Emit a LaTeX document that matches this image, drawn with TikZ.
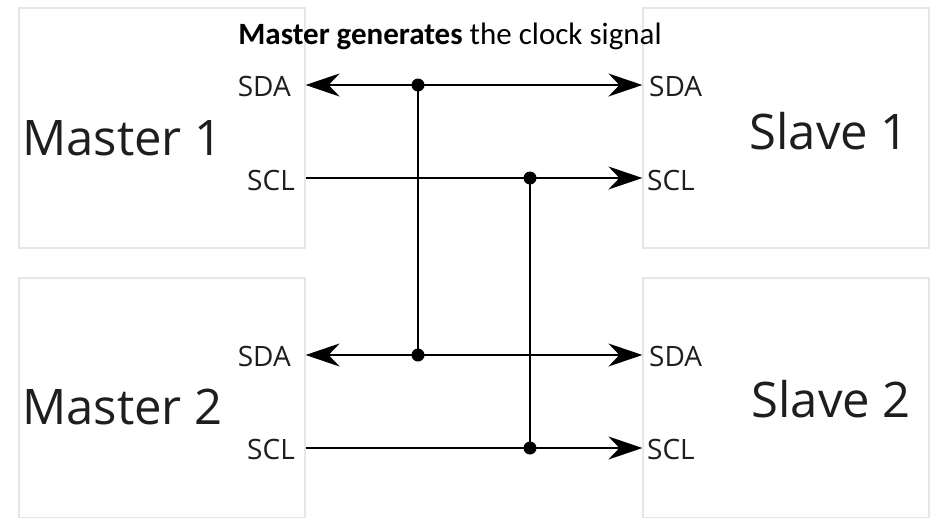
\documentclass[tikz,border=0pt]{standalone}
\usepackage{fontspec}
\setmainfont{Open Sans}
\newfontfamily\titlefont{Carlito}
\usetikzlibrary{arrows.meta}
\definecolor{boxgray}{HTML}{E6E6E6}
\definecolor{txt}{HTML}{1E1E1E}
\tikzset{
  box/.style={draw=boxgray, line width=1.2pt, minimum width=286pt, minimum height=240pt, inner sep=0pt},
  bigtext/.style={font=\fontsize{49}{56}\selectfont, text=txt, inner sep=0pt},
  portlab/.style={font=\fontsize{28}{32}\selectfont, text=txt, inner sep=0pt},
  wire/.style={line width=2pt},
  arr/.style={wire, -{Stealth[length=34pt, width=23pt, inset=11pt]}},
  dotnode/.style={circle, fill=black, inner sep=0pt, minimum size=13pt},
}
\begin{document}
\begin{tikzpicture}[x=1pt, y=-1pt]
\useasboundingbox (0,0) rectangle (932,517);
\fill[white] (0,0) rectangle (932,517);
% boxes
\node[box] (m1) at (162,128) {};
\node[box] (s1) at (786,128) {};
\node[box] (m2) at (162,398) {};
\node[box] (s2) at (786,398) {};
% box names
\node[bigtext, anchor=west] (m1t) at (22,138) {Master 1};
\node[bigtext, anchor=east] (s1t) at (909,131) {Slave 1};
\node[bigtext, anchor=west] (m2t) at (22,407) {Master 2};
\node[bigtext, anchor=east] (s2t) at (911,399) {Slave 2};
% port labels
\node[portlab, anchor=east] (m1sda) at (291,86) {SDA};
\node[portlab, anchor=east] (m1scl) at (295,180) {SCL};
\node[portlab, anchor=east] (m2sda) at (291,356) {SDA};
\node[portlab, anchor=east] (m2scl) at (295,449) {SCL};
\node[portlab, anchor=west] (s1sda) at (649,86) {SDA};
\node[portlab, anchor=west] (s1scl) at (647,180) {SCL};
\node[portlab, anchor=west] (s2sda) at (649,356) {SDA};
\node[portlab, anchor=west] (s2scl) at (647,449) {SCL};
% title
\node[font=\titlefont\fontsize{31}{36}\selectfont, inner sep=0pt] (title) at (450,36) {\textbf{Master generates} the clock signal};
% junctions
\node[dotnode] (j1) at (418,85) {};
\node[dotnode] (j2) at (530,178) {};
\node[dotnode] (j3) at (418,355) {};
\node[dotnode] (j4) at (530,448) {};
% wires
\draw[arr] (j1.center) -- (j1 -| m1.east);
\draw[arr] (j1.center) -- (j1 -| s1.west);
\draw[arr] (j2 -| m1.east) -- (j2 -| s1.west);
\draw[arr] (j3.center) -- (j3 -| m2.east);
\draw[arr] (j3.center) -- (j3 -| s2.west);
\draw[arr] (j4 -| m2.east) -- (j4 -| s2.west);
\draw[wire] (j1.center) -- (j3.center);
\draw[wire] (j2.center) -- (j4.center);
\end{tikzpicture}
\end{document}
